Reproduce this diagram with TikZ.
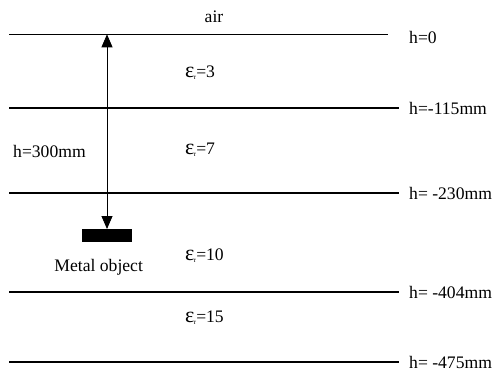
\documentclass[tikz,border=0pt]{standalone}
\usepackage{fontspec}
\setmainfont{Liberation Serif}
\usetikzlibrary{arrows.meta}
\newcommand{\epsr}[1]{{\fontsize{22}{22}\selectfont ε}\kern-0.5pt\raisebox{-0.12em}{\fontsize{7}{7}\selectfont r}=#1}
\tikzset{bigtip/.tip={Triangle[width=11pt,length=13pt]}}
\begin{document}
\begin{tikzpicture}[x=1pt,y=-1pt,font=\fontsize{17.6}{20}\selectfont,
  lbl/.style={inner sep=0pt,anchor=west},
  ctr/.style={inner sep=0pt},
  thinline/.style={line width=1.2pt},
  thickline/.style={line width=2pt}]
\useasboundingbox (0,0) rectangle (493,373);
% interfaces
\draw[thinline]  (9,34.3)  -- (388,34.3);
\draw[thickline] (9,107.7) -- (399,107.7);
\draw[thickline] (9,192.7) -- (399,192.7);
\draw[thinline]  (9,292)   -- (399,292);
\draw[thinline]  (9,362)   -- (399,362);
% depth labels
\node[lbl] (h0)   at (409,37)  {h=0};
\node[lbl] (h115) at (409,108) {h=-115mm};
\node[lbl] (h230) at (409,193) {h= -230mm};
\node[lbl] (h404) at (409,292) {h= -404mm};
\node[lbl] (h475) at (409,362) {h= -475mm};
% layer labels
\node[ctr] (air) at (214,16.7) {air};
\node[lbl] (e3)  at (185,72.7) {\epsr{3}};
\node[lbl] (e7)  at (185,150)  {\epsr{7}};
\node[lbl] (e10) at (185,256)  {\epsr{10}};
\node[lbl] (e15) at (185,318)  {\epsr{15}};
\node[lbl] (hd)  at (13,151)   {h=300mm};
% metal object
\node[fill=black,minimum width=50pt,minimum height=13pt,inner sep=0pt] (obj) at (107,235.7) {};
\node[ctr] (objlbl) at (98.7,267) {Metal object};
\coordinate (top) at (107,34.3);
\draw[line width=0.9pt,bigtip-bigtip] (top) -- (obj.north);
\end{tikzpicture}
\end{document}
